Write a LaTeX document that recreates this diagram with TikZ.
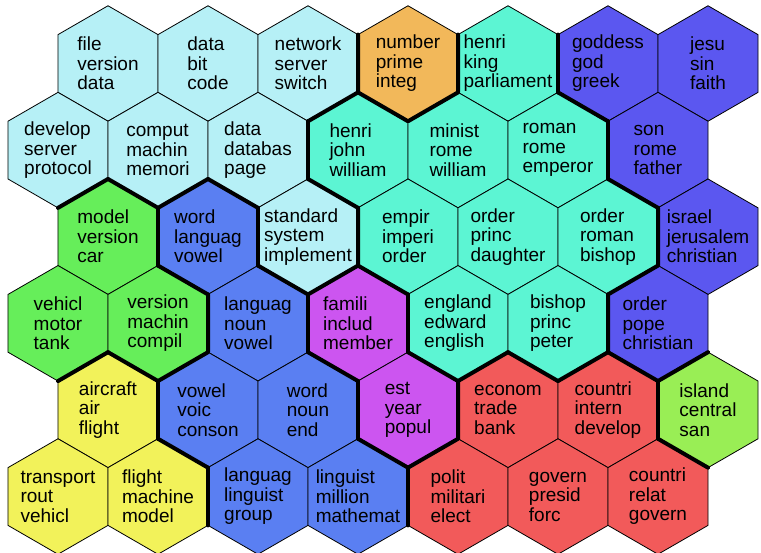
\documentclass[tikz,border=0pt]{standalone}
\usepackage{fontspec}
\setmainfont{Liberation Sans}
\usetikzlibrary{shapes.geometric}

\definecolor{netcol}{HTML}{B6F0F6}
\definecolor{numcol}{HTML}{F2B85A}
\definecolor{histcol}{HTML}{5CF5D3}
\definecolor{relcol}{HTML}{5B57F0}
\definecolor{carcol}{HTML}{66EE5A}
\definecolor{langcol}{HTML}{5A7FF2}
\definecolor{popcol}{HTML}{CC55F0}
\definecolor{aircol}{HTML}{F2F25A}
\definecolor{polcol}{HTML}{F25A5A}
\definecolor{islcol}{HTML}{99EE55}

\begin{document}
\begin{tikzpicture}
        [x=1pt, y=-1pt,
         hex/.style={draw, line width=0.8pt, regular polygon, regular polygon sides=6,
                     shape border rotate=30, minimum size=115.5pt, inner sep=0pt, outer sep=0pt},
         words/.style={align=left, inner sep=0pt, font=\fontsize{19}{19.5}\selectfont},
         border/.style={line width=4pt, line cap=round, line join=round}]

        \useasboundingbox (0,0) rectangle (761,552);

        % row 0
        \node [hex,fill=netcol,  label={[words]center:file\\version\\data}]        (h00) at (108,63.5) {};
        \node [hex,fill=netcol,  label={[words]center:data\\bit\\code}]            (h01) at (208,63.5) {};
        \node [hex,fill=netcol,  label={[words]center:network\\server\\switch}]    (h02) at (308,63.5) {};
        \node [hex,fill=numcol,  label={[words]center:number\\prime\\integ}]       (h03) at (408,63.5) {};
        \node [hex,fill=histcol, label={[words]center:henri\\king\\parliament}]    (h04) at (508,63.5) {};
        \node [hex,fill=relcol,  label={[words]center:goddess\\god\\greek}]        (h05) at (608,63.5) {};
        \node [hex,fill=relcol,  label={[words]center:jesu\\sin\\faith}]           (h06) at (708,63.5) {};

        % row 1
        \node [hex,fill=netcol,  label={[words]center:develop\\server\\protocol}]  (h10) at (58,150.1) {};
        \node [hex,fill=netcol,  label={[words]center:comput\\machin\\memori}]     (h11) at (158,150.1) {};
        \node [hex,fill=netcol,  label={[words]center:data\\databas\\page}]        (h12) at (258,150.1) {};
        \node [hex,fill=histcol, label={[words]center:henri\\john\\william}]       (h13) at (358,150.1) {};
        \node [hex,fill=histcol, label={[words]center:minist\\rome\\william}]      (h14) at (458,150.1) {};
        \node [hex,fill=histcol, label={[words]center:roman\\rome\\emperor}]       (h15) at (558,150.1) {};
        \node [hex,fill=relcol,  label={[words]center:son\\rome\\father}]          (h16) at (658,150.1) {};

        % row 2
        \node [hex,fill=carcol,  label={[words]center:model\\version\\car}]        (h20) at (108,236.7) {};
        \node [hex,fill=langcol, label={[words]center:word\\languag\\vowel}]       (h21) at (208,236.7) {};
        \node [hex,fill=netcol,  label={[words]center:standard\\system\\implement}] (h22) at (308,236.7) {};
        \node [hex,fill=histcol, label={[words]center:empir\\imperi\\order}]       (h23) at (408,236.7) {};
        \node [hex,fill=histcol, label={[words]center:order\\princ\\daughter}]     (h24) at (508,236.7) {};
        \node [hex,fill=histcol, label={[words]center:order\\roman\\bishop}]       (h25) at (608,236.7) {};
        \node [hex,fill=relcol,  label={[words]center:israel\\jerusalem\\christian}] (h26) at (708,236.7) {};

        % row 3
        \node [hex,fill=carcol,  label={[words]center:vehicl\\motor\\tank}]        (h30) at (58,323.3) {};
        \node [hex,fill=carcol,  label={[words]center:version\\machin\\compil}]    (h31) at (158,323.3) {};
        \node [hex,fill=langcol, label={[words]center:languag\\noun\\vowel}]       (h32) at (258,323.3) {};
        \node [hex,fill=popcol,  label={[words]center:famili\\includ\\member}]     (h33) at (358,323.3) {};
        \node [hex,fill=histcol, label={[words]center:england\\edward\\english}]   (h34) at (458,323.3) {};
        \node [hex,fill=histcol, label={[words]center:bishop\\princ\\peter}]       (h35) at (558,323.3) {};
        \node [hex,fill=relcol,  label={[words]center:order\\pope\\christian}]     (h36) at (658,323.3) {};

        % row 4
        \node [hex,fill=aircol,  label={[words]center:aircraft\\air\\flight}]      (h40) at (108,409.9) {};
        \node [hex,fill=langcol, label={[words]center:vowel\\voic\\conson}]        (h41) at (208,409.9) {};
        \node [hex,fill=langcol, label={[words]center:word\\noun\\end}]            (h42) at (308,409.9) {};
        \node [hex,fill=popcol,  label={[words]center:est\\year\\popul}]           (h43) at (408,409.9) {};
        \node [hex,fill=polcol,  label={[words]center:econom\\trade\\bank}]        (h44) at (508,409.9) {};
        \node [hex,fill=polcol,  label={[words]center:countri\\intern\\develop}]   (h45) at (608,409.9) {};
        \node [hex,fill=islcol,  label={[words]center:island\\central\\san}]       (h46) at (708,409.9) {};

        % row 5
        \node [hex,fill=aircol,  label={[words]center:transport\\rout\\vehicl}]    (h50) at (58,496.5) {};
        \node [hex,fill=aircol,  label={[words]center:flight\\machine\\model}]     (h51) at (158,496.5) {};
        \node [hex,fill=langcol, label={[words]center:languag\\linguist\\group}]   (h52) at (258,496.5) {};
        \node [hex,fill=langcol, label={[words]center:linguist\\million\\mathemat}] (h53) at (358,496.5) {};
        \node [hex,fill=polcol,  label={[words]center:polit\\militari\\elect}]     (h54) at (458,496.5) {};
        \node [hex,fill=polcol,  label={[words]center:govern\\presid\\forc}]       (h55) at (558,496.5) {};
        \node [hex,fill=polcol,  label={[words]center:countri\\relat\\govern}]     (h56) at (658,496.5) {};

        % cluster borders
        \draw[border] (h02.30) -- (h02.330) -- (h02.270);
        \draw[border] (h03.30) -- (h03.330) -- (h03.270) -- (h03.210);
        \draw[border] (h04.30) -- (h04.330);
        \draw[border] (h05.270) -- (h05.210);
        \draw[border] (h10.330) -- (h10.270);
        \draw[border] (h11.330) -- (h11.270) -- (h11.210);
        \draw[border] (h12.30) -- (h12.330);
        \draw[border] (h12.270) -- (h12.210);
        \draw[border] (h13.270) -- (h13.210);
        \draw[border] (h15.30) -- (h15.330);
        \draw[border] (h16.270) -- (h16.210);
        \draw[border] (h20.30) -- (h20.330);
        \draw[border] (h21.30) -- (h21.330);
        \draw[border] (h21.270) -- (h21.210);
        \draw[border] (h22.30) -- (h22.330) -- (h22.270) -- (h22.210);
        \draw[border] (h23.270) -- (h23.210);
        \draw[border] (h25.30) -- (h25.330) -- (h25.270);
        \draw[border] (h30.330) -- (h30.270);
        \draw[border] (h31.30) -- (h31.330) -- (h31.270) -- (h31.210);
        \draw[border] (h32.30) -- (h32.330);
        \draw[border] (h33.30) -- (h33.330);
        \draw[border] (h33.270) -- (h33.210);
        \draw[border] (h34.330) -- (h34.270) -- (h34.210);
        \draw[border] (h35.30) -- (h35.330) -- (h35.270) -- (h35.210);
        \draw[border] (h36.330) -- (h36.270) -- (h36.210);
        \draw[border] (h40.30) -- (h40.330);
        \draw[border] (h41.270) -- (h41.210);
        \draw[border] (h42.30) -- (h42.330);
        \draw[border] (h43.30) -- (h43.330) -- (h43.270) -- (h43.210);
        \draw[border] (h45.30) -- (h45.330);
        \draw[border] (h46.270) -- (h46.210);
        \draw[border] (h51.30) -- (h51.330);
        \draw[border] (h53.30) -- (h53.330);

\end{tikzpicture}
\end{document}
